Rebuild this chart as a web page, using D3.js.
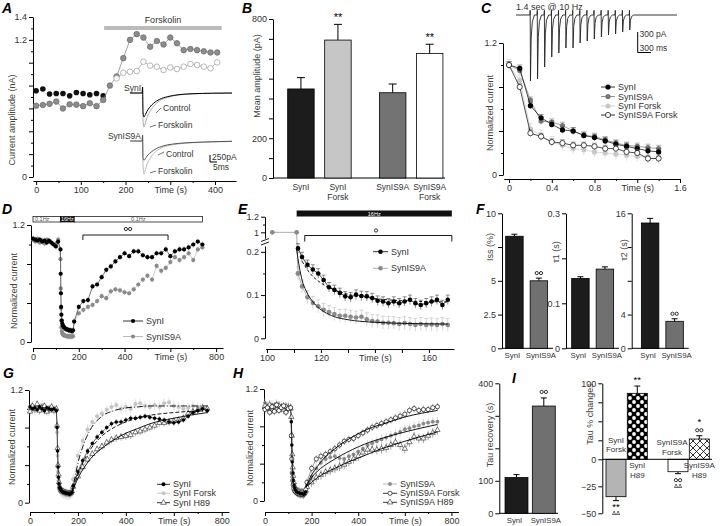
<!DOCTYPE html>
<html><head><meta charset="utf-8">
<script src="https://cdn.jsdelivr.net/npm/d3@7"></script>
<style>body{margin:0;background:#fff}svg{display:block;font-family:"Liberation Sans",Arial,sans-serif}</style>
</head><body><svg width="720" height="526"></svg>
<script>
// ---------------- data ----------------
// A: amplitude time course
var aTimeBlack = [0,15,30,45,60,75,90,105,120,135,150];
var aBlack = [0.755,0.77,0.726,0.73,0.73,0.71,0.74,0.73,0.72,0.73,0.71];
var aTimeGrey = [0,15,30,45,60,75,90,105,120,135,150,165,180,195,210,225,240,255,270,285,300,315,330,345,360,375,390,405];
var aGrey = [0.624,0.63,0.64,0.66,0.60,0.636,0.633,0.62,0.645,0.62,0.674,0.80,0.88,1.04,1.20,1.25,1.22,1.14,1.19,1.16,1.22,1.17,1.11,1.12,1.11,1.10,1.09,1.09];
var aTimeOpen = [180,195,210,225,240,255,270,285,300,315,330,345,360,375,390,405];
var aOpen = [0.863,0.912,0.921,0.927,1.009,0.974,0.965,0.936,0.958,0.945,0.965,0.989,0.98,0.965,0.951,1.003];
var aForskolin = [152, 415];
// A insets: EPSC traces (ms, pA)
var trTime = [-9,-0.3,0,0.3,1,2,3,5,8,12,18,26,36,50,64];
var trSynICtl = [0,0,250,-800,-1000,-900,-780,-600,-420,-270,-150,-70,-30,-10,0];
var trSynIForsk = [0,0,250,-1100,-1420,-1250,-1050,-800,-550,-330,-180,-80,-35,-10,0];
var trS9ACtl = [0,0,250,-700,-800,-740,-640,-520,-380,-260,-160,-100,-60,-30,-10];
var trS9AForsk = [0,0,250,-1000,-1380,-1200,-1000,-760,-520,-340,-200,-120,-70,-40,-20];

// B: mean amplitude
var bCats = ["SynI","SynI Forsk","SynIS9A","SynIS9A Forsk"];
var bMean = [448,694,429,627];
var bSem = [57,79,44,46];
var bStars = ["","**","","**"];

// C: 10 Hz train
var cTime = [0,0.1,0.2,0.3,0.4,0.5,0.6,0.7,0.8,0.9,1.0,1.1,1.2,1.3,1.4];
var cSynI = [1.0,0.97,0.63,0.52,0.46,0.41,0.40,0.36,0.34,0.31,0.28,0.26,0.24,0.22,0.21];
var cS9A = [1.0,0.95,0.68,0.49,0.48,0.45,0.40,0.36,0.35,0.32,0.29,0.27,0.26,0.25,0.24];
var cSynIForsk = [1.0,0.86,0.42,0.36,0.30,0.27,0.24,0.23,0.21,0.20,0.19,0.18,0.17,0.16,0.15];
var cS9AForsk = [1.0,0.80,0.38,0.35,0.30,0.29,0.27,0.27,0.26,0.24,0.24,0.21,0.20,0.15,0.15];
var cStimTime = [0,100,200,300,400,500,600,700,800,900,1000,1100,1200,1300,1400];
var cStimAmp = [990,960,780,630,570,495,495,420,390,360,330,300,285,255,225];

// D: 16 Hz depletion and recovery
var dTimeBase = [0,10,20,30,40,50,60,70,80,90,100,110];
var dSynIBase = [1.06,1.05,1.04,1.05,1.03,1.04,1.02,1.04,1.02,1.0,0.98,1.03];
var dS9ABase = [1.05,1.03,1.06,1.02,1.04,1.01,1.05,1.03,1.02,1.0,1.01,1.05];
var dTimeTrain = [120,121,122,123,124,126,128,130,133,136,140,145,150,155,160,165,170,175];
var dSynITrain = [0.95,0.7,0.5,0.36,0.28,0.22,0.19,0.17,0.16,0.15,0.14,0.13,0.13,0.12,0.12,0.12,0.11,0.12];
var dS9ATrain = [0.85,0.55,0.35,0.22,0.15,0.11,0.09,0.08,0.07,0.07,0.065,0.06,0.06,0.055,0.06,0.055,0.055,0.06];
var recTime = [180,200,220,240,260,280,300,320,340,360,380,400,420,440,460,480,500,520,540,560,580,600,620,640,660,680,700,720,740];
var dSynIRec = [0.21,0.36,0.42,0.43,0.57,0.59,0.665,0.74,0.775,0.826,0.87,0.91,0.88,0.93,0.93,0.89,0.87,0.87,0.91,0.91,0.95,0.88,0.93,0.95,0.95,0.97,1.0,1.03,1.0];
var dS9ARec = [0.21,0.295,0.33,0.36,0.38,0.42,0.47,0.45,0.52,0.54,0.53,0.51,0.5,0.54,0.59,0.64,0.68,0.64,0.78,0.73,0.76,0.82,0.87,0.84,0.87,0.91,0.84,0.95,0.97];
var dStim = [[0,120,"0.1Hz"],[120,180,"16Hz"],[180,740,"0.1Hz"]];
var dBracket = [218, 590];

// E: zoom on the 16 Hz train
var eTopTime = [102,111];
var eTop = [1,1];
var eTime = [111.5,113,115,117,119,121,123,125,127,129,131,133,135,137,139,141,143,145,147,149,151,153,155,157,159,161,163,165,167];
var eSynI = [0.208,0.188,0.17,0.159,0.15,0.135,0.118,0.112,0.105,0.097,0.095,0.101,0.098,0.097,0.093,0.087,0.085,0.081,0.085,0.081,0.085,0.089,0.081,0.077,0.081,0.085,0.089,0.077,0.089];
var eS9A = [0.15,0.12,0.095,0.082,0.074,0.066,0.061,0.056,0.052,0.052,0.05,0.048,0.05,0.044,0.04,0.039,0.036,0.036,0.035,0.033,0.035,0.033,0.031,0.033,0.031,0.032,0.031,0.033,0.031];
var eFitTimeA = [111,112,113,114.5,116,118,121,125,130,140,155,167];
var eFitS9A = [0.205,0.165,0.135,0.11,0.093,0.077,0.062,0.05,0.043,0.037,0.034,0.033];
var eFitTimeB = [113,116,120,125,130,140,150,167];
var eFitSynI = [0.178,0.15,0.128,0.112,0.102,0.092,0.087,0.084];
var eTrain = [111, 168.5];
var eBracket = [114, 168.5];

// F: fit parameters
var fCats = ["SynI","SynIS9A"];
var fIss = [8.3,5.0], fIssErr = [0.15,0.2];
var fTau1 = [0.155,0.176], fTau1Err = [0.004,0.005];
var fTau2 = [14.85,3.2], fTau2Err = [0.55,0.3];

// G, H: recovery (shared baseline / train times)
var ghTimeBase = [0,10,20,30,40,50,60,70,80,90,100,110,113,115,117,119,121,124,127,130,135,140,145,150,155,160,165,170,175];
var gSynIBase = [1.02,1.0,1.01,0.99,1.02,1.0,0.98,1.01,1.0,0.99,1.0,0.98,0.8,0.55,0.38,0.27,0.2,0.16,0.14,0.13,0.12,0.11,0.11,0.1,0.1,0.1,0.09,0.1,0.11];
var gForskBase = [1.0,1.03,0.98,1.02,1.0,1.04,0.99,1.01,0.97,1.02,1.0,0.99,0.75,0.5,0.33,0.24,0.18,0.14,0.12,0.11,0.1,0.09,0.09,0.08,0.08,0.08,0.08,0.09,0.1];
var gH89Base = [0.97,1.03,1.0,1.05,0.98,1.01,1.03,0.97,1.0,1.02,0.98,1.0,0.82,0.58,0.4,0.3,0.22,0.17,0.15,0.13,0.12,0.12,0.11,0.11,0.1,0.1,0.1,0.1,0.12];
var gSynIRec = [0.18,0.33,0.45,0.55,0.63,0.7,0.75,0.8,0.84,0.86,0.86,0.88,0.9,0.9,0.91,0.92,0.91,0.9,0.89,0.88,0.86,0.85,0.86,0.88,0.92,0.96,0.98,1.0,0.98];
var gForskRec = [0.25,0.5,0.66,0.78,0.86,0.92,0.95,0.99,1.02,1.04,1.0,1.02,1.0,1.05,1.06,1.03,1.02,1.04,1.02,1.06,1.07,1.03,1.02,1.0,1.01,1.03,1.02,1.01,1.0];
var gH89Rec = [0.17,0.28,0.38,0.46,0.52,0.57,0.6,0.64,0.67,0.69,0.7,0.71,0.72,0.75,0.76,0.78,0.8,0.82,0.85,0.85,0.86,0.87,0.88,0.9,0.95,0.97,0.99,1.01,1.0];
var fitTime = [175,200,225,250,300,350,400,450,500,600,740];
var gFitForsk = [0.1,0.42,0.63,0.77,0.92,0.98,1.01,1.02,1.03,1.03,1.03];
var gFitSynI = [0.1,0.3,0.45,0.56,0.71,0.8,0.86,0.9,0.93,0.96,0.98];
var gFitH89 = [0.1,0.26,0.37,0.46,0.58,0.67,0.74,0.79,0.84,0.9,0.96];

var hS9ABase = [1.05,1.02,0.98,1.03,1.0,1.04,0.99,1.02,1.0,0.97,1.01,1.0,0.85,0.6,0.42,0.3,0.22,0.17,0.14,0.12,0.1,0.09,0.09,0.08,0.08,0.08,0.07,0.08,0.1];
var hForskBase = [0.98,1.0,0.95,1.01,0.96,1.03,0.97,1.0,1.02,0.95,0.99,1.0,0.7,0.45,0.3,0.22,0.17,0.13,0.11,0.1,0.09,0.08,0.08,0.07,0.07,0.07,0.07,0.08,0.12];
var hH89Base = [1.02,1.0,1.03,0.98,1.01,0.99,1.02,1.0,0.98,1.01,1.0,0.99,0.9,0.7,0.5,0.36,0.27,0.2,0.16,0.13,0.11,0.1,0.1,0.09,0.09,0.09,0.08,0.09,0.11];
var hS9ARec = [0.17,0.26,0.35,0.41,0.45,0.47,0.48,0.46,0.45,0.48,0.5,0.53,0.56,0.6,0.62,0.64,0.66,0.68,0.7,0.72,0.74,0.77,0.78,0.8,0.81,0.83,0.84,0.85,0.85];
var hForskRec = [0.2,0.35,0.45,0.48,0.5,0.53,0.56,0.6,0.64,0.66,0.67,0.7,0.73,0.76,0.79,0.81,0.83,0.85,0.87,0.89,0.91,0.93,0.97,0.99,0.97,0.98,0.98,1.0,1.01];
var hH89Rec = [0.15,0.2,0.25,0.28,0.31,0.33,0.35,0.37,0.39,0.42,0.45,0.48,0.52,0.55,0.55,0.55,0.56,0.57,0.6,0.63,0.6,0.56,0.63,0.69,0.67,0.67,0.7,0.73,0.76];
var hFitForsk = [0.15,0.28,0.37,0.45,0.56,0.65,0.72,0.78,0.82,0.9,0.97];
var hFitS9A = [0.15,0.25,0.32,0.37,0.45,0.52,0.58,0.63,0.67,0.74,0.82];
var hFitH89 = [0.15,0.2,0.25,0.29,0.35,0.41,0.46,0.51,0.56,0.64,0.74];

// I: recovery tau and % changes
var iTau = [110,330], iTauErr = [9,25];
var iCats = ["SynI Forsk","SynI H89","SynIS9A Forsk","SynIS9A H89"];
var iChange = [-34.6,86.8,-11.5,26.7];
var iChangeErr = [3.7,9.6,1.8,4.3];
var iMarks = [["**","ΔΔ"],["**"],["°°","ΔΔ"],["°°","*"]];

// ---------------- helpers ----------------
var svg = d3.select("svg");

var defs = svg.append("defs");
var dots = defs.append("pattern").attr("id","dots").attr("patternUnits","userSpaceOnUse")
  .attr("width",8).attr("height",8);
dots.append("rect").attr("width",8).attr("height",8).attr("fill","#000");
dots.append("circle").attr("cx",2).attr("cy",2).attr("r",1.9).attr("fill","#fff");
dots.append("circle").attr("cx",6).attr("cy",6).attr("r",1.9).attr("fill","#fff");
var hatch = defs.append("pattern").attr("id","hatch").attr("patternUnits","userSpaceOnUse")
  .attr("width",7).attr("height",7);
hatch.append("rect").attr("width",7).attr("height",7).attr("fill","#fff");
hatch.append("path").attr("d","M0,0L7,7M7,0L0,7").attr("stroke","#000").attr("stroke-width",0.8);

function letter(t, x, y) {
  svg.append("text").attr("x", x).attr("y", y).attr("font-size", 14)
    .attr("font-weight", "bold").attr("font-style", "italic").text(t);
}
function txt(x, y, s, size, anchor, fill) {
  return svg.append("text").attr("x", x).attr("y", y).text(s)
    .attr("font-size", size || 9).attr("fill", fill || "#333")
    .attr("text-anchor", anchor || "start");
}
function title(x, y, s) {
  svg.append("text").attr("transform", "translate(" + x + "," + y + ") rotate(-90)")
    .attr("text-anchor", "middle").attr("font-size", 9).attr("fill", "#444").text(s);
}
function lab(shown, timeAt) {
  return function (d) {
    if (timeAt !== undefined && Math.abs(d - timeAt) < 1e-6) return "Time (s)";
    return shown.some(function (v) { return Math.abs(v - d) < 1e-6; }) ? d3.format("~g")(d) : "";
  };
}
function axis(orient, pos, scale, major, minor, shown, timeAt) {
  var horiz = orient === "bottom";
  var make = horiz ? d3.axisBottom : d3.axisLeft;
  var tr = horiz ? "translate(0," + pos + ")" : "translate(" + pos + ",0)";
  if (minor) svg.append("g").attr("transform", tr)
    .call(make(scale).tickValues(minor).tickSize(2).tickFormat(""))
    .call(function (g) { g.select(".domain").remove(); });
  var g = svg.append("g").attr("transform", tr)
    .call(make(scale).tickValues(major).tickSize(4).tickSizeOuter(0).tickPadding(2)
      .tickFormat(lab(shown, timeAt)));
  g.attr("font-family", null).attr("font-size", 9);
  g.selectAll("text").attr("fill", "#333");
}
function zip(xs, ys) { return xs.map(function (t, i) { return [t, ys[i]]; }); }

function plot(xs, ys, sx, sy, o) {
  var pts = zip(xs, ys);
  if (o.err) {
    var eg = svg.append("g").attr("stroke", o.errColor || "#aaa").attr("stroke-width", 0.6);
    eg.selectAll("line.v").data(pts).join("line").attr("class", "v")
      .attr("x1", function (d) { return sx(d[0]); }).attr("x2", function (d) { return sx(d[0]); })
      .attr("y1", function (d) { return sy(d[1] - o.err); }).attr("y2", function (d) { return sy(d[1] + o.err); });
    if (o.cap) eg.selectAll("line.c").data(pts).join("line").attr("class", "c")
      .attr("x1", function (d) { return sx(d[0]) - o.cap; }).attr("x2", function (d) { return sx(d[0]) + o.cap; })
      .attr("y1", function (d) { return sy(d[1] + o.err); }).attr("y2", function (d) { return sy(d[1] + o.err); });
  }
  if (o.line) svg.append("path").datum(pts)
    .attr("d", d3.line().x(function (d) { return sx(d[0]); }).y(function (d) { return sy(d[1]); }))
    .attr("fill", "none").attr("stroke", o.line).attr("stroke-width", o.lw || 0.7);
  var g = svg.append("g");
  if (o.tri) g.selectAll("path").data(pts).join("path")
    .attr("d", d3.symbol(d3.symbolTriangle, o.size || 12))
    .attr("transform", function (d) { return "translate(" + sx(d[0]) + "," + sy(d[1]) + ")"; })
    .attr("fill", o.fill).attr("stroke", o.stroke).attr("stroke-width", 0.6);
  else g.selectAll("circle").data(pts).join("circle")
    .attr("cx", function (d) { return sx(d[0]); }).attr("cy", function (d) { return sy(d[1]); })
    .attr("r", o.r).attr("fill", o.fill).attr("stroke", o.stroke || "none").attr("stroke-width", o.sw || 0.7);
}
function fit(xs, ys, sx, sy, dash) {
  svg.append("path").datum(zip(xs, ys))
    .attr("d", d3.line().curve(d3.curveMonotoneX).x(function (d) { return sx(d[0]); }).y(function (d) { return sy(d[1]); }))
    .attr("fill", "none").attr("stroke", "#000").attr("stroke-width", 0.9)
    .attr("stroke-dasharray", dash || null);
}
function legendRow(x1, x2, y, label, o) {
  svg.append("line").attr("x1", x1).attr("x2", x2).attr("y1", y).attr("y2", y)
    .attr("stroke", o.line || "#000").attr("stroke-width", 0.8);
  var cx = (x1 + x2) / 2;
  if (o.tri) svg.append("path").attr("d", d3.symbol(d3.symbolTriangle, 14)())
    .attr("transform", "translate(" + cx + "," + y + ")").attr("fill", o.fill).attr("stroke", o.stroke).attr("stroke-width", 0.6);
  else svg.append("circle").attr("cx", cx).attr("cy", y).attr("r", o.r)
    .attr("fill", o.fill).attr("stroke", o.stroke || "none").attr("stroke-width", 0.7);
  txt(x2 + 3, y + 3, label, 9);
}
function circles(x, y, n) {
  for (var k = 0; k < n; k++) svg.append("circle").attr("cx", x + (k - (n - 1) / 2) * 4.2).attr("cy", y)
    .attr("r", 1.6).attr("fill", "none").attr("stroke", "#000").attr("stroke-width", 0.8);
}
function mark(x, y, s) {
  if (s === "°°") circles(x, y - 2.5, 2);
  else txt(x, y, s, s === "ΔΔ" ? 6 : 9.5, "middle", "#000");
}
function hline(x1, x2, y) {
  svg.append("line").attr("x1", x1).attr("x2", x2).attr("y1", y).attr("y2", y).attr("stroke", "#000").attr("stroke-width", 1);
}
function simpleBars(cats, vals, errs, sx, sy, fills) {
  var g = svg.append("g");
  g.selectAll("line").data(vals).join("line")
    .attr("x1", function (d, i) { return sx(cats[i]) + sx.bandwidth() / 2; })
    .attr("x2", function (d, i) { return sx(cats[i]) + sx.bandwidth() / 2; })
    .attr("y1", function (d) { return sy(d); })
    .attr("y2", function (d, i) { return sy(d + errs[i]); }).attr("stroke", "#000");
  g.selectAll("line.cap").data(vals).join("line").attr("class", "cap")
    .attr("x1", function (d, i) { return sx(cats[i]) + sx.bandwidth() / 2 - 3; })
    .attr("x2", function (d, i) { return sx(cats[i]) + sx.bandwidth() / 2 + 3; })
    .attr("y1", function (d, i) { return sy(d + errs[i]); })
    .attr("y2", function (d, i) { return sy(d + errs[i]); }).attr("stroke", "#000");
  g.selectAll("rect").data(vals).join("rect")
    .attr("x", function (d, i) { return sx(cats[i]); }).attr("width", sx.bandwidth())
    .attr("y", function (d) { return sy(d); }).attr("height", function (d) { return sy(0) - sy(d); })
    .attr("fill", function (d, i) { return fills[i]; }).attr("stroke", "#000").attr("stroke-width", 0.8);
}

// ---------------- A ----------------
letter("A", 2, 13);
var ax = d3.scaleLinear().domain([-7, 447]).range([33, 236]);
var ay = d3.scaleLinear().domain([0, 1.4]).range([177, 17]);
axis("left", 33, ay, [0,0.2,0.4,0.6,0.8,1.0,1.2,1.4], [0.1,0.3,0.5,0.7,0.9,1.1,1.3], [0,1.2,1.4]);
axis("bottom", 181, ax, [0,100,200,300,400], [50,150,250,350], [0,100,200,400], 300);
title(15, 120, "Current amplitude (nA)");
svg.append("rect").attr("x", ax(aForskolin[0])).attr("width", ax(aForskolin[1]) - ax(aForskolin[0]))
  .attr("y", 26).attr("height", 4).attr("fill", "#bbb");
txt((ax(aForskolin[0]) + ax(aForskolin[1])) / 2, 23, "Forskolin", 9, "middle");
plot(aTimeBlack, aBlack, ax, ay, { r: 2.8, fill: "#111" });
plot(aTimeGrey, aGrey, ax, ay, { r: 2.8, fill: "#8c8c8c", stroke: "#6a6a6a", line: "#888", lw: 0.8 });
plot(aTimeOpen, aOpen, ax, ay, { r: 2.8, fill: "#fff", stroke: "#999", line: "#aaa", lw: 0.8 });

// insets
var tx = d3.scaleLinear().domain([-9, 64]).range([130, 232]);
var tyI = d3.scaleLinear().domain([0, -1500]).range([93, 129]);
var tyS = d3.scaleLinear().domain([0, -1500]).range([141, 177]);
function trace(ys, sy, color) {
  svg.append("path").datum(zip(trTime, ys))
    .attr("d", d3.line().curve(d3.curveMonotoneX).x(function (d) { return tx(d[0]); }).y(function (d) { return sy(d[1]); }))
    .attr("fill", "none").attr("stroke", color).attr("stroke-width", 1);
}
trace(trSynIForsk, tyI, "#aaa"); trace(trSynICtl, tyI, "#000");
trace(trS9AForsk, tyS, "#bbb"); trace(trS9ACtl, tyS, "#555");
txt(141, 91, "SynI", 8.5, "end");
txt(141, 139, "SynIS9A", 8.5, "end");
function leader(x1, y1, x2, y2) {
  svg.append("path").attr("d", "M" + x1 + "," + y1 + "L" + x2 + "," + y2).attr("stroke", "#333").attr("fill", "none").attr("stroke-width", 0.7);
}
leader(156, 113, 161, 108); txt(163, 111, "Control", 8.5);
leader(150, 127, 156, 125); txt(158, 127.5, "Forskolin", 8.5);
leader(158, 155, 164, 152); txt(166, 157, "Control", 8.5);
leader(150, 173, 156, 171); txt(158, 173.5, "Forskolin", 8.5);
svg.append("path").attr("d", "M210,155V162H217").attr("stroke", "#000").attr("fill", "none").attr("stroke-width", 1);
txt(212, 160, "250pA", 8.5); txt(213, 169.5, "5ms", 8.5);

// ---------------- B ----------------
letter("B", 242, 13);
var by = d3.scaleLinear().domain([0, 800]).range([178, 19]);
var bx0 = d3.scaleBand().domain(["SynI","SynIS9A"]).range([241.8, 488.8]).paddingInner(0.308).paddingOuter(0.5);
var bx1 = d3.scaleBand().domain(["ctl","forsk"]).range([0, bx0.bandwidth()]).paddingInner(0.284).paddingOuter(0);
axis("left", 273, by, [0,100,200,300,400,500,600,700,800], null, [0,200,800]);
title(260, 76, "Mean amplitude (pA)");
hline(273, 445, 178);
var bFill = ["#1c1c1c","#c6c6c6","#737373","#fff"];
bCats.forEach(function (c, i) {
  var grp = c.split(" ")[0], cond = c.indexOf("Forsk") >= 0 ? "forsk" : "ctl";
  var x = bx0(grp) + bx1(cond), w = bx1.bandwidth(), cx = x + w / 2;
  svg.append("line").attr("x1", cx).attr("x2", cx).attr("y1", by(bMean[i])).attr("y2", by(bMean[i] + bSem[i])).attr("stroke", "#000");
  svg.append("line").attr("x1", cx - 4).attr("x2", cx + 4).attr("y1", by(bMean[i] + bSem[i])).attr("y2", by(bMean[i] + bSem[i])).attr("stroke", "#000");
  svg.append("rect").attr("x", x).attr("width", w).attr("y", by(bMean[i])).attr("height", by(0) - by(bMean[i]))
    .attr("fill", bFill[i]).attr("stroke", "#000").attr("stroke-width", 0.8);
  if (bStars[i]) txt(cx, by(bMean[i] + bSem[i]) - 3, bStars[i], 11, "middle", "#000");
  var parts = c.split(" ");
  txt(cx, 190, parts[0], 8.5, "middle");
  if (parts[1]) txt(cx, 200, parts[1], 8.5, "middle");
});

// ---------------- C ----------------
letter("C", 481, 13);
var cx = d3.scaleLinear().domain([-0.05, 1.6]).range([503.7, 680]);
var cy = d3.scaleLinear().domain([0, 1.2]).range([175, 43]);
axis("left", 503, cy, [0,0.4,0.8,1.2], [0.2,0.6,1.0], [0,1.2]);
axis("bottom", 179, cx, [0,0.4,0.8,1.2,1.6], [0.2,0.6,1.0,1.4], [0,0.4,0.8,1.6], 1.2);
title(493, 113, "Normalized current");
plot(cTime, cSynIForsk, cx, cy, { r: 2.6, fill: "#c8c8c8", line: "#c8c8c8", err: 0.05, cap: 2.5, errColor: "#ccc" });
plot(cTime, cS9A, cx, cy, { r: 2.6, fill: "#777", line: "#777", err: 0.03, cap: 2.5, errColor: "#888" });
plot(cTime, cSynI, cx, cy, { r: 2.6, fill: "#000", line: "#000", err: 0.03, cap: 2.5, errColor: "#555" });
plot(cTime, cS9AForsk, cx, cy, { r: 2.6, fill: "#fff", stroke: "#000", line: "#000", err: 0.03, cap: 2.5, errColor: "#777" });
legendRow(601, 615, 87, "SynI", { r: 2.6, fill: "#000" });
legendRow(601, 615, 96.5, "SynIS9A", { r: 2.6, fill: "#777", line: "#777" });
legendRow(601, 615, 106, "SynI Forsk", { r: 2.6, fill: "#c8c8c8", line: "#c8c8c8" });
legendRow(601, 615, 115, "SynIS9A Forsk", { r: 2.6, fill: "#fff", stroke: "#000" });
// train trace
var tcx = d3.scaleLinear().domain([-200, 2070]).range([516, 677]);
var tcy = d3.scaleLinear().domain([0, -1000]).range([15, 81.7]);
var tracePts = [[-200, 0]];
cStimTime.forEach(function (t, i) {
  var a = cStimAmp[i];
  tracePts.push([t - 4, 0], [t, 70], [t + 4, -a], [t + 14, -a * 0.35], [t + 30, -a * 0.1], [t + 60, 0]);
});
tracePts.push([2070, 0]);
svg.append("path").datum(tracePts)
  .attr("d", d3.line().x(function (d) { return tcx(d[0]); }).y(function (d) { return tcy(d[1]); }))
  .attr("fill", "none").attr("stroke", "#222").attr("stroke-width", 0.9);
txt(516, 10, "1.4 sec @ 10 Hz", 9);
svg.append("path").attr("d", "M637.7,32V52.5H651").attr("stroke", "#000").attr("fill", "none").attr("stroke-width", 1);
txt(639.5, 37, "300 pA", 8.5); txt(639.5, 50.5, "300 ms", 8.5);

// ---------------- D ----------------
letter("D", 2, 214);
var dx = d3.scaleLinear().domain([0, 830]).range([33, 223]);
var dy = d3.scaleLinear().domain([0, 1.2]).range([342, 225]);
axis("left", 31, dy, [0,0.4,0.8,1.2], [0.2,0.6,1.0], [0,1.2]);
axis("bottom", 348, dx, [0,200,400,600,800], [100,300,500,700], [0,200,400,800], 600);
title(17, 291, "Normalized current");
dStim.forEach(function (s) {
  var black = s[2] === "16Hz";
  svg.append("rect").attr("x", dx(s[0])).attr("width", dx(s[1]) - dx(s[0])).attr("y", 216.5).attr("height", 5.5)
    .attr("fill", black ? "#111" : "#fff").attr("stroke", "#000").attr("stroke-width", 0.7);
  txt(black ? (dx(s[0]) + dx(s[1])) / 2 : (s[0] === 0 ? dx(s[0]) + 2 : (dx(s[0]) + dx(s[1])) / 2), 221, s[2], 5.5,
    black || s[0] > 0 ? "middle" : "start", black ? "#fff" : "#555");
});
svg.append("path").attr("d", "M" + dx(dBracket[0]) + ",240V235H" + dx(dBracket[1]) + "V240")
  .attr("fill", "none").attr("stroke", "#000").attr("stroke-width", 0.9);
circles(dx(415), 229, 2);
var dTime = dTimeBase.concat(dTimeTrain, recTime);
plot(dTime, dS9ABase.concat(dS9ATrain, dS9ARec), dx, dy, { r: 2.1, fill: "#8a8a8a", line: "#aaa", lw: 0.6, err: 0.03, errColor: "#bbb" });
plot(dTime, dSynIBase.concat(dSynITrain, dSynIRec), dx, dy, { r: 2.1, fill: "#000", line: "#222", lw: 0.6, err: 0.03, errColor: "#888" });
legendRow(123, 143, 321, "SynI", { r: 2.1, fill: "#000" });
legendRow(123, 143, 336.5, "SynIS9A", { r: 2.1, fill: "#8a8a8a", line: "#aaa" });

// ---------------- E ----------------
letter("E", 238, 214);
var ex = d3.scaleLinear().domain([99.5, 169.3]).range([265.6, 454]);
var eyL = d3.scaleLinear().domain([0, 0.2135]).range([338.3, 246]);
var eyU = d3.scaleLinear().domain([0.925, 1.2]).range([238.2, 216.7]);
function ey(v) { return v > 0.5 ? eyU(v) : eyL(v); }
axis("left", 265, eyL, [0,0.1,0.2], [0.05,0.15], [0,0.1,0.2]);
axis("left", 265, eyU, [1,1.2], [1.1], [1,1.2]);
svg.append("path").attr("d", "M261,241.5L269,238.5M261,245L269,242").attr("stroke", "#000").attr("stroke-width", 0.9);
axis("bottom", 349, ex, [100,110,120,130,140,150,160], null, [100,120,160], 140);
svg.append("rect").attr("x", ex(eTrain[0])).attr("width", ex(eTrain[1]) - ex(eTrain[0])).attr("y", 210.5).attr("height", 6).attr("fill", "#111");
txt((ex(eTrain[0]) + ex(eTrain[1])) / 2, 215.5, "16Hz", 5.5, "middle", "#fff");
svg.append("path").attr("d", "M" + ex(eBracket[0]) + ",241.5V235.5H" + ex(eBracket[1]) + "V241.5")
  .attr("fill", "none").attr("stroke", "#000").attr("stroke-width", 0.9);
circles(376, 230.5, 1);
plot(eTopTime.concat([eTime[0]]), eTop.concat([eS9A[0]]), ex, ey, { r: 2.4, fill: "#8a8a8a", line: "#888" });
plot(eTime, eS9A, ex, ey, { r: 2.3, fill: "#8a8a8a", line: "#999", err: 0.015, cap: 2, errColor: "#bbb" });
plot(eTime, eSynI, ex, ey, { r: 2.3, fill: "#000", line: "#000", err: 0.011, cap: 2, errColor: "#444" });
fit(eFitTimeA, eFitS9A, ex, ey);
fit(eFitTimeB, eFitSynI, ex, ey, "3,2");
legendRow(373, 388, 251.7, "SynI", { r: 2.3, fill: "#000" });
legendRow(373, 388, 268.3, "SynIS9A", { r: 2.3, fill: "#8a8a8a", line: "#999" });

// ---------------- F ----------------
letter("F", 476, 214);
var fPanels = [
  { x: 502, off: 0, vals: fIss, errs: fIssErr, max: 10, major: [0,2.5,5,7.5,10], shown: [0,2.5,5,10], t: "Iss (%)", tx: 493, ty: 247, sig: true },
  { x: 566, off: 2, vals: fTau1, errs: fTau1Err, max: 0.3, major: [0,0.1,0.2,0.3], shown: [0,0.1,0.3], t: "τ1 (s)", tx: 559, ty: 252, sig: false },
  { x: 631.7, off: 6, vals: fTau2, errs: fTau2Err, max: 16, major: [0,4,8,12,16], shown: [0,4,16], t: "τ2 (s)", tx: 627, ty: 250, sig: true }
];
fPanels.forEach(function (p) {
  var sy = d3.scaleLinear().domain([0, p.max]).range([348.3, 213.3]);
  var sx = d3.scaleBand().domain(fCats).range([p.x + p.off, p.x + p.off + 49.3]).paddingInner(0.286).paddingOuter(0.15);
  axis("left", p.x, sy, p.major, null, p.shown);
  title(p.tx, p.ty, p.t);
  hline(p.x, p.x + p.off + 51, 348.3);
  simpleBars(fCats, p.vals, p.errs, sx, sy, ["#1c1c1c", "#707070"]);
  txt(sx("SynI") + sx.bandwidth() / 2 - 2, 358, "SynI", 7.8, "middle");
  txt(sx("SynIS9A") + sx.bandwidth() / 2 + 2, 358, "SynIS9A", 7.8, "middle");
  if (p.sig) circles(sx("SynIS9A") + sx.bandwidth() / 2, sy(p.vals[1] + p.errs[1]) - 5, 2);
});

// ---------------- G ----------------
letter("G", 3, 378);
var gx = d3.scaleLinear().domain([0, 830]).range([30, 228.9]);
var gy = d3.scaleLinear().domain([0, 1.2]).range([502.7, 390]);
axis("left", 29, gy, [0,0.4,0.8,1.2], [0.2,0.6,1.0], [0,1.2]);
axis("bottom", 512, gx, [0,200,400,600,800], [100,300,500,700], [0,200,400,800], 600);
title(15, 447, "Normalized current");
var ghTime = ghTimeBase.concat(recTime);
plot(ghTime, gForskBase.concat(gForskRec), gx, gy, { r: 2.0, fill: "#c4c4c4", line: "#d0d0d0", lw: 0.5, err: 0.05, errColor: "#ccc" });
plot(ghTime, gH89Base.concat(gH89Rec), gx, gy, { tri: true, size: 12, fill: "#fff", stroke: "#222", line: "#666", lw: 0.5, err: 0.04, errColor: "#777" });
plot(ghTime, gSynIBase.concat(gSynIRec), gx, gy, { r: 1.8, fill: "#000", line: "#000", lw: 0.6, err: 0.03, errColor: "#555" });
fit(fitTime, gFitForsk, gx, gy, "6,2,1,2");
fit(fitTime, gFitSynI, gx, gy, "4,2");
fit(fitTime, gFitH89, gx, gy);
legendRow(157, 170, 484.3, "SynI", { r: 2, fill: "#000" });
legendRow(157, 170, 493.3, "SynI Forsk", { r: 2, fill: "#c4c4c4", line: "#bbb" });
legendRow(157, 170, 502.7, "SynI H89", { tri: true, fill: "#fff", stroke: "#222" });

// ---------------- H ----------------
letter("H", 233, 378);
var hx = d3.scaleLinear().domain([0, 830]).range([265, 458.4]);
var hy = d3.scaleLinear().domain([0, 1.2]).range([501, 389]);
axis("left", 264, hy, [0,0.4,0.8,1.2], [0.2,0.6,1.0], [0,1.2]);
axis("bottom", 512, hx, [0,200,400,600,800], [100,300,500,700], [0,200,400,800], 600);
title(253, 448, "Normalized current");
plot(ghTime, hS9ABase.concat(hS9ARec), hx, hy, { r: 1.9, fill: "#8a8a8a", line: "#aaa", lw: 0.5, err: 0.05, errColor: "#bbb" });
plot(ghTime, hH89Base.concat(hH89Rec), hx, hy, { tri: true, size: 12, fill: "#fff", stroke: "#222", line: "#444", lw: 0.5, err: 0.05, errColor: "#666" });
plot(ghTime, hForskBase.concat(hForskRec), hx, hy, { r: 2.1, fill: "#fff", stroke: "#111", line: "#333", lw: 0.5, err: 0.04, errColor: "#666" });
plot(ghTimeBase.slice(12), hS9ABase.slice(12), hx, hy, { r: 1.6, fill: "#000", line: "#000" });
fit(fitTime, hFitForsk, hx, hy);
fit(fitTime, hFitS9A, hx, hy);
fit(fitTime, hFitH89, hx, hy);
legendRow(383, 397, 484, "SynIS9A", { r: 1.9, fill: "#8a8a8a", line: "#aaa" });
legendRow(383, 397, 493.3, "SynIS9A Forsk", { r: 2.1, fill: "#fff", stroke: "#111" });
legendRow(383, 397, 502.3, "SynIS9A H89", { tri: true, fill: "#fff", stroke: "#222" });

// ---------------- I ----------------
letter("I", 512, 383);
var iy = d3.scaleLinear().domain([0, 400]).range([513.3, 383.3]);
var ix = d3.scaleBand().domain(fCats).range([502.3, 558]).paddingInner(0.16).paddingOuter(0.1);
axis("left", 499.3, iy, [0,100,200,300,400], null, [0,100,400]);
title(492.7, 435, "Tau recovery (s)");
hline(499.3, 558, 513.3);
simpleBars(fCats, iTau, iTauErr, ix, iy, ["#1c1c1c", "#707070"]);
txt(ix("SynI") + ix.bandwidth() / 2 - 2, 523, "SynI", 7.8, "middle");
txt(ix("SynIS9A") + ix.bandwidth() / 2 + 2, 523, "SynIS9A", 7.8, "middle");
circles(ix("SynIS9A") + ix.bandwidth() / 2, iy(iTau[1] + iTauErr[1]) - 6, 2);

var iy2 = d3.scaleLinear().domain([-50, 0, 100]).range([513.3, 459.3, 383.3]);
var ix0 = d3.scaleBand().domain(["SynI","SynIS9A"]).range([599.8, 715.5]).paddingInner(0.334).paddingOuter(0.1);
var ix1 = d3.scaleBand().domain(["Forsk","H89"]).range([0, ix0.bandwidth()]).paddingInner(0.061).paddingOuter(0);
axis("left", 602.3, iy2, [-50,-25,0,25,50,75,100], null, [-50,-25,0,100]);
title(592.7, 414, "Tau % changes");
var iFill = ["#b4b4b4", "url(#dots)", "#fff", "url(#hatch)"];
iCats.forEach(function (c, i) {
  var parts = c.split(" ");
  var x = ix0(parts[0]) + ix1(parts[1]), w = ix1.bandwidth(), mid = x + w / 2;
  var v = iChange[i], e = iChangeErr[i], up = v > 0;
  svg.append("line").attr("x1", mid).attr("x2", mid).attr("y1", iy2(v)).attr("y2", iy2(up ? v + e : v - e)).attr("stroke", "#000");
  svg.append("line").attr("x1", mid - 3).attr("x2", mid + 3).attr("y1", iy2(up ? v + e : v - e)).attr("y2", iy2(up ? v + e : v - e)).attr("stroke", "#000");
  svg.append("rect").attr("x", x).attr("width", w).attr("y", iy2(Math.max(v, 0)))
    .attr("height", Math.abs(iy2(v) - iy2(0))).attr("fill", iFill[i]).attr("stroke", "#000").attr("stroke-width", 0.8);
  var yEnd = iy2(up ? v + e : v - e);
  iMarks[i].forEach(function (m, k) {
    var yy = up ? yEnd - 3 - k * 8 : yEnd + 9 + k * 5.5;
    mark(mid, yy, m);
  });
  var ly = up ? 468 : (parts[0] === "SynI" ? 442.5 : 445);
  var lx = (!up && parts[0] === "SynIS9A") ? mid - 6 : mid;
  txt(lx, ly, parts[0], 8, "middle");
  txt(lx, ly + 9.5, parts[1], 8, "middle");
});
hline(602.3, 712, 459.3);
</script></body></html>
